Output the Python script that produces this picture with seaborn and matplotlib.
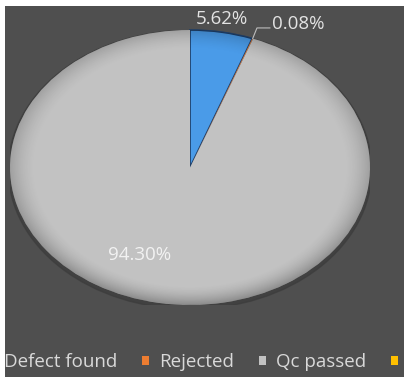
import matplotlib
matplotlib.use("Agg")
import matplotlib.pyplot as plt
import numpy as np
import seaborn as sns
from matplotlib.patches import Patch, Ellipse

# Inspection outcome shares (percent)
categories = ["Defect found", "Rejected", "Qc passed", ""]
shares = [5.62, 0.08, 94.30, 0.0]
colors = ["#4a9be8", "#ed7d31", "#c2c2c2", "#ffc000"]

sns.set_theme(style="white")
plt.rcParams["font.family"] = ["Open Sans", "DejaVu Sans"]

W, H = 404, 388
fig = plt.figure(figsize=(W / 100, H / 100), dpi=100, facecolor="white")

# dark panel behind the chart
bg = fig.add_axes([5 / W, 11 / H, 399 / W, 371 / H])
bg.set_facecolor("#4f4f4f")
bg.set_xticks([])
bg.set_yticks([])
for s in bg.spines.values():
    s.set_visible(False)

# stretched pie (ellipse) area
ax = fig.add_axes([10 / W, 83 / H, 360 / W, 275 / H])
ax.set_facecolor("none")

# soft shadow under the pie
ax.add_patch(Ellipse((0, -0.015), 2.02, 2.03, color="#3c3c3c", alpha=0.7, zorder=0))

wedges, _ = ax.pie(
    shares,
    colors=colors,
    startangle=90,
    counterclock=False,
    radius=1.0,
    wedgeprops=dict(linewidth=0),
)
for w in wedges:
    w.set_zorder(1)
wedges[0].set_edgecolor("#1d3d66")
wedges[0].set_linewidth(1.2)

ax.set_aspect("auto")
ax.set_xlim(-1, 1)
ax.set_ylim(-1, 1)
ax.axis("off")

# bevel shading toward the rim
gx, gy = np.meshgrid(np.linspace(-1, 1, 400), np.linspace(-1, 1, 400))
r = np.hypot(gx, gy)
edge = np.clip((r - 0.86) / 0.14, 0, 1) ** 1.6
shade = np.zeros((400, 400, 4))
shade[..., 3] = 0.28 * edge * (0.6 + 0.4 * np.clip(-gy, 0, 1))
img = ax.imshow(shade, extent=(-1, 1, -1, 1), origin="lower", zorder=2, aspect="auto")
img.set_clip_path(Ellipse((0, 0), 2, 2, transform=ax.transData))

# value labels
total = sum(shares)
label_color = "#e3e3e3"
label_size = 13.5
ax.text(0.178, 1.08, f"{shares[0] / total * 100:.2f}%", ha="center", va="center",
        fontsize=label_size, color=label_color, clip_on=False)

mid = np.deg2rad(90 - 360 * (shares[0] + shares[1] / 2) / total)
px, py = np.cos(mid), np.sin(mid)
ax.plot([px, 0.372, 0.445], [py, 1.015, 1.015], color="#bdbdbd", lw=0.8,
        clip_on=False, zorder=3)
ax.text(0.456, 1.044, f"{shares[1] / total * 100:.2f}%", ha="left", va="center",
        fontsize=label_size, color=label_color, clip_on=False)

ax.text(-0.278, -0.636, f"{shares[2] / total * 100:.2f}%", ha="center", va="center",
        fontsize=label_size, color="#f2f2f2", zorder=4)

handles = [Patch(facecolor=c, edgecolor="none") for c in colors]
fig.legend(handles, categories, loc="center left", bbox_to_anchor=(-13 / W, 26 / H),
           ncol=4, frameon=False, fontsize=13.5, labelcolor="#d9d9d9",
           handlelength=0.38, handleheight=0.38, handletextpad=0.55,
           columnspacing=1.3, borderaxespad=0, borderpad=0)

fig.savefig("out.png", dpi=100, facecolor="white")
